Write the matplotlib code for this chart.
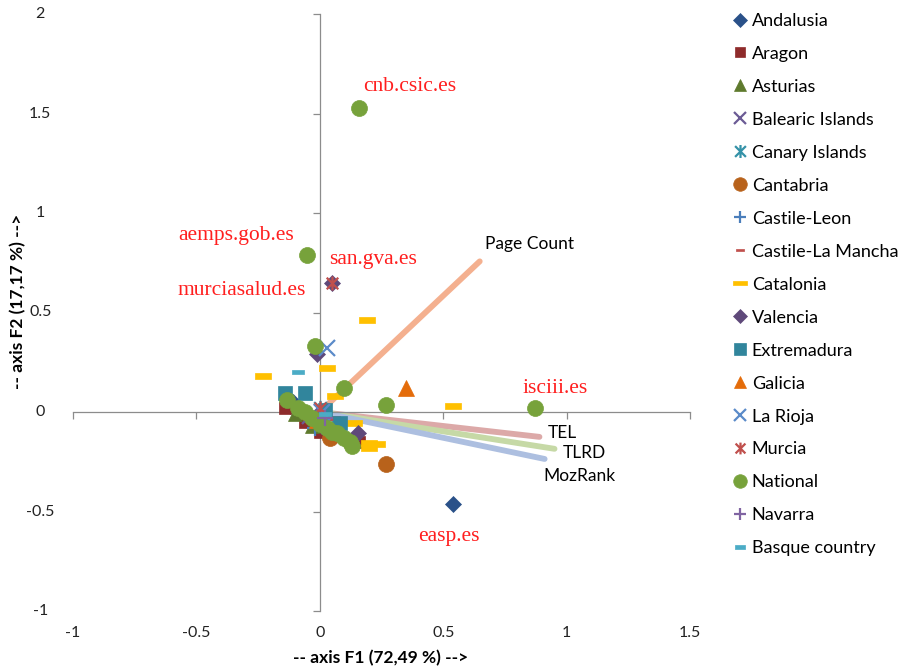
import numpy as np
import matplotlib
matplotlib.use('Agg')
import matplotlib.pyplot as plt
from matplotlib.path import Path

# --- data (PCA scores, F1 / F2) ---
andalusia_x = [0.54, -0.11, -0.07, -0.12]
andalusia_y = [-0.46, 0.05, 0.0, 0.03]
aragon_x = [-0.14, -0.06, 0.0, 0.16]
aragon_y = [0.02, -0.05, -0.10, -0.15]
asturias_x = [-0.10, -0.03]
asturias_y = [-0.01, -0.07]
balearic_x = [0.01, -0.04]
balearic_y = [0.0, -0.02]
canary_x = [0.0, 0.03]
canary_y = [0.02, -0.075]
cantabria_x = [0.27, 0.04]
cantabria_y = [-0.26, -0.13]
castile_leon_x = [-0.02, 0.02]
castile_leon_y = [-0.08, -0.04]
castile_lm_x = [0.06, -0.01, 0.10]
castile_lm_y = [-0.03, -0.06, -0.12]
catalonia_x = [0.19, 0.03, -0.23, 0.54, 0.06, 0.14, 0.20, 0.20, 0.23]
catalonia_y = [0.46, 0.22, 0.18, 0.03, 0.08, -0.055, -0.155, -0.18, -0.16]
valencia_x = [0.05, -0.01, 0.154]
valencia_y = [0.65, 0.29, -0.105]
extremadura_x = [-0.142, -0.061, 0.08, 0.02]
extremadura_y = [0.095, 0.095, -0.055, 0.01]
galicia_x = [0.35, -0.012]
galicia_y = [0.12, -0.04]
la_rioja_x = [0.03, 0.01]
la_rioja_y = [0.32, 0.0]
murcia_x = [0.05, 0.0]
murcia_y = [0.65, 0.02]
national_x = [0.16, -0.05, -0.02, 0.10, 0.27, 0.87, -0.134, -0.061, 0.069, 0.121,
              0.10, 0.0, -0.09, -0.03, 0.03, 0.05, 0.13]
national_y = [1.53, 0.79, 0.33, 0.12, 0.035, 0.02, 0.06, 0.0, -0.105, -0.15,
              -0.13, -0.06, 0.02, -0.03, -0.08, -0.10, -0.17]
navarra_x = [0.02]
navarra_y = [-0.03]
basque_x = [-0.09, 0.02]
basque_y = [0.20, -0.01]

# variable vectors (loadings)
vec_names = ['Page Count', 'TEL', 'TLRD', 'MozRank']
vec_x = [0.648, 0.89, 0.951, 0.911]
vec_y = [0.757, -0.125, -0.185, -0.236]

# site names written on the chart
site_names = ['cnb.csic.es', 'aemps.gob.es', 'san.gva.es', 'murciasalud.es', 'isciii.es', 'easp.es']
site_x = [0.174, -0.575, 0.036, -0.575, 0.822, 0.397]
site_y = [1.634, 0.887, 0.767, 0.611, 0.12, -0.627]

xticks = [-1, -0.5, 0, 0.5, 1, 1.5]
yticks = [-1, -0.5, 0, 0.5, 1, 1.5, 2]

# --- custom markers ---
dash = Path([(-1, -0.32), (1, -0.32), (1, 0.32), (-1, 0.32), (-1, -0.32)])
asterisk = Path([(-1, -1), (1, 1), (-1, 1), (1, -1), (0, -1.2), (0, 1.2)],
                [Path.MOVETO, Path.LINETO, Path.MOVETO, Path.LINETO, Path.MOVETO, Path.LINETO])

plt.rcParams['font.family'] = ['Lato', 'DejaVu Sans']

fig = plt.figure(figsize=(9.04, 6.70), dpi=100)
ax = fig.add_axes([73 / 904, 59 / 670, 617 / 904, 597 / 670])

vec_colors = ['#F4B08F', '#DCA9A8', '#C6D9A6', '#ADBFE0']
for i in range(len(vec_names)):
    ax.plot([0, vec_x[i]], [0, vec_y[i]], color=vec_colors[i], lw=4.2,
            solid_capstyle='round', zorder=2)
vec_lab_pos = [(0.668, 0.842), (0.923, -0.105), (0.984, -0.206), (0.907, -0.321)]
for name, (lx, ly) in zip(vec_names, vec_lab_pos):
    ax.text(lx, ly, name, fontsize=12.5, ha='left', va='center', color='black')

series = [
    ('Andalusia', andalusia_x, andalusia_y, 'D', '#2A5189', 8, True),
    ('Aragon', aragon_x, aragon_y, 's', '#8E2B2B', 9, True),
    ('Asturias', asturias_x, asturias_y, '^', '#5E7A2D', 10, True),
    ('Balearic Islands', balearic_x, balearic_y, 'x', '#6B5B95', 11, False),
    ('Canary Islands', canary_x, canary_y, asterisk, '#3592A8', 11, False),
    ('Cantabria', cantabria_x, cantabria_y, 'o', '#B8621B', 11.5, True),
    ('Castile-Leon', castile_leon_x, castile_leon_y, '+', '#4A7EBB', 11, False),
    ('Castile-La Mancha', castile_lm_x, castile_lm_y, dash, '#C0504D', 7, True),
    ('Catalonia', catalonia_x, catalonia_y, dash, '#FFC000', 12, True),
    ('Valencia', valencia_x, valencia_y, 'D', '#5F497A', 8, True),
    ('Extremadura', extremadura_x, extremadura_y, 's', '#31859C', 10, True),
    ('Galicia', galicia_x, galicia_y, '^', '#E46C0A', 11, True),
    ('La Rioja', la_rioja_x, la_rioja_y, 'x', '#5B8BC9', 11, False),
    ('Murcia', murcia_x, murcia_y, asterisk, '#C0504D', 10, False),
    ('National', national_x, national_y, 'o', '#77A23B', 11.5, True),
    ('Navarra', navarra_x, navarra_y, '+', '#8064A2', 11, False),
    ('Basque country', basque_x, basque_y, dash, '#4BACC6', 8, True),
]

handles = []
for k, (name, xs, ys, mk, col, ms, filled) in enumerate(series):
    if filled:
        h, = ax.plot(xs, ys, ls='none', marker=mk, ms=ms, mfc=col, mec=col, mew=0.5,
                     label=name, zorder=3 + k * 0.01)
    else:
        h, = ax.plot(xs, ys, ls='none', marker=mk, ms=ms, mfc='none', mec=col, mew=1.6,
                     label=name, zorder=3 + k * 0.01)
    handles.append(h)

for name, sx, sy in zip(site_names, site_x, site_y):
    ax.text(sx, sy, name, fontsize=15.5, color='#FF1F1F', ha='left', va='center',
            family=['Liberation Serif', 'DejaVu Serif'], zorder=6)

# axes crossing at zero, labels kept at the outer edge
ax.set_xlim(-1, 1.5)
ax.set_ylim(-1, 2)
for s in ['top', 'right']:
    ax.spines[s].set_visible(False)
for s in ['left', 'bottom']:
    ax.spines[s].set_position(('data', 0))
    ax.spines[s].set_color('#8C8C8C')
    ax.spines[s].set_linewidth(0.9)
ax.set_xticks(xticks)
ax.set_yticks(yticks)
ax.tick_params(direction='out', length=5, width=0.9, color='#8C8C8C',
               labelbottom=False, labelleft=False)

fmt = lambda v: ('%g' % v)
for v in xticks:
    ax.text(v, -0.037, fmt(v), transform=ax.get_xaxis_transform(),
            ha='center', va='center', fontsize=11.5, color='#222222')
for v in yticks:
    ax.text(-0.053, v, fmt(v), transform=ax.get_yaxis_transform(),
            ha='center', va='center', fontsize=11.5, color='#222222')

ax.text(0.498, -0.079, '-- axis F1 (72,49 %) -->', transform=ax.transAxes,
        ha='center', va='center', fontsize=12.5, fontweight='bold')
ax.text(-0.089, 0.518, '-- axis F2 (17,17 %) -->', transform=ax.transAxes,
        ha='center', va='center', fontsize=12.5, fontweight='bold', rotation=90)

ax.legend(handles=handles, loc='upper left', bbox_to_anchor=(722 / 904, 0.997),
          bbox_transform=fig.transFigure, frameon=False, fontsize=13,
          labelspacing=0.94, handlelength=0.8, handletextpad=0.25,
          markerscale=0.85, borderaxespad=0.2)

fig.savefig('out.png', dpi=100)
